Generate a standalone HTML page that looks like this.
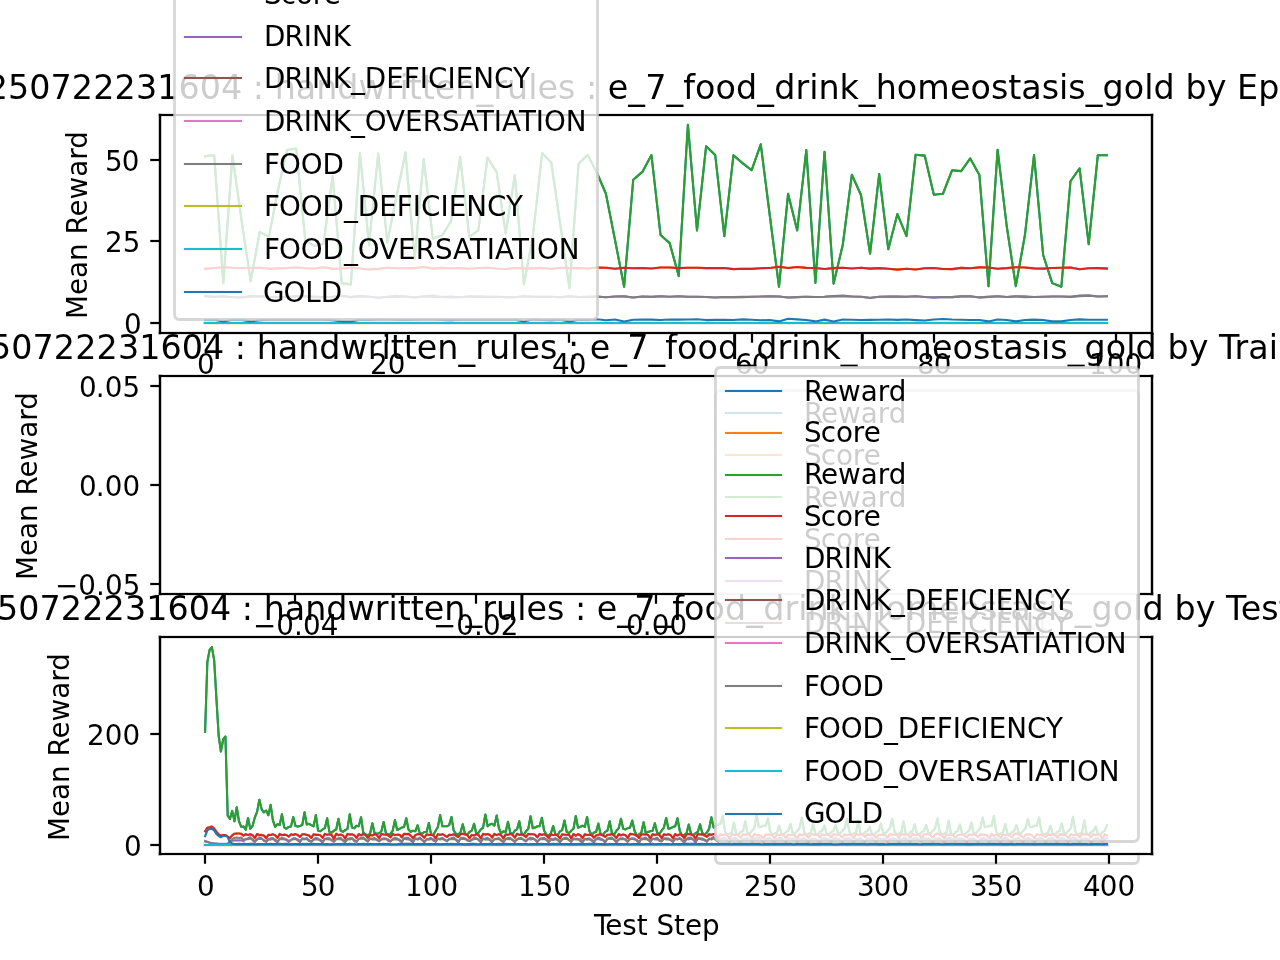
<!DOCTYPE html>
<html lang="en">
<head>
<meta charset="utf-8">
<title>Mean Reward plots</title>
<style>
html,body{margin:0;padding:0;background:#fff;}
body{width:1280px;height:960px;overflow:hidden;}
svg{display:block;font-family:"DejaVu Sans","Liberation Sans",sans-serif;}
svg text{fill:#000;white-space:pre;}
svg path{stroke-linejoin:round;}
</style>
</head>
<body>
<svg width="1280" height="960" viewBox="0 0 1280 960">
<g id="axes1">
<clipPath id="c0"><rect x="160" y="115.2" width="992" height="217.41"/></clipPath>
<rect x="160" y="115.2" width="992" height="217.41" fill="#fff"/>
<path d="M205.09 156.25L214.2 155L223.31 283.1L232.42 155.25L241.53 220L250.64 281.25L259.75 231.9L268.86 236.9L277.97 190L287.07 150L296.18 148.5L305.29 240.5L314.4 246L323.51 243.75L332.62 176.25L341.73 283.1L350.84 284.4L359.95 153.1L369.06 245L378.17 153.5L387.28 242.5L396.39 197L405.49 152.25L414.6 259L423.71 158.75L432.82 238.6L441.93 235.6L451.04 221.25L460.15 156.9L469.26 236.8L478.37 230.4L487.48 157.5L496.59 171.9L505.7 233.5L514.81 175L523.92 284.4L533.02 235L542.13 153.1L551.24 162.5L560.35 225L569.46 288.1L578.57 163.75L587.68 155L596.79 172.5L605.9 193.75L615.01 240L624.12 286.7L633.23 179.75L642.34 171.9L651.45 155.05L660.55 235L669.66 243.1L678.77 276.1L687.88 124.7L696.99 230.45L706.1 146.3L715.21 155L724.32 236.1L733.43 155.3L742.54 163.1L751.65 170.2L760.76 144.3L769.87 216L778.98 286.7L788.08 193.8L797.19 230.45L806.3 150.05L815.41 282.95L824.52 151.8L833.63 283.6L842.74 245L851.85 174.7L860.96 195L870.07 253.6L879.18 174.05L888.29 249.2L897.4 214.05L906.51 236.1L915.61 154.7L924.72 155.6L933.83 194.8L942.94 193.75L952.05 170.3L961.16 171.1L970.27 158.4L979.38 175L988.49 286.1L997.6 149.7L1006.71 226L1015.82 286.1L1024.93 235L1034.03 155.05L1043.14 255L1052.25 283.1L1061.36 286.7L1070.47 181.25L1079.58 168.4L1088.69 244.2L1097.8 155.3L1106.91 155.25" fill="none" stroke="#1f77b4" stroke-width="2.08" stroke-linecap="square" clip-path="url(#c0)"/>
<path d="M205.09 268.88L214.2 268.05L223.31 267.21L232.42 267.8L241.53 268.03L250.64 268.01L259.75 267.75L268.86 268.84L277.97 268.36L287.07 268.08L296.18 267.47L305.29 268.33L314.4 268.58L323.51 267.23L332.62 268.86L341.73 268.51L350.84 267.79L359.95 268.47L369.06 269.53L378.17 268.88L387.28 267.71L396.39 268.19L405.49 268.11L414.6 268.12L423.71 266.9L432.82 268.62L441.93 267.85L451.04 268.29L460.15 268.13L469.26 268.68L478.37 268.04L487.48 267.76L496.59 268.49L505.7 268.97L514.81 268.02L523.92 268.35L533.02 268.34L542.13 267.91L551.24 269.04L560.35 267.75L569.46 268.16L578.57 267.93L587.68 268.45L596.79 267.52L605.9 267.74L615.01 268.79L624.12 267.7L633.23 268.22L642.34 267.96L651.45 268.45L660.55 267.43L669.66 267.58L678.77 268.11L687.88 267.74L696.99 267.81L706.1 268.16L715.21 268.12L724.32 268.08L733.43 269.12L742.54 268.76L751.65 268.88L760.76 268.18L769.87 267.92L778.98 266.8L788.08 268.01L797.19 267.05L806.3 267.88L815.41 268.02L824.52 269.09L833.63 268.13L842.74 267.73L851.85 268.47L860.96 267.77L870.07 268.65L879.18 268.14L888.29 268.67L897.4 269.62L906.51 268.71L915.61 269.48L924.72 268.3L933.83 268.02L942.94 268.93L952.05 269.15L961.16 267.89L970.27 268.24L979.38 267.41L988.49 267.49L997.6 268.69L1006.71 268.15L1015.82 267.29L1024.93 267.43L1034.03 268.4L1043.14 268.64L1052.25 267.93L1061.36 267.74L1070.47 267.5L1079.58 269.17L1088.69 268.17L1097.8 268.12L1106.91 268.6" fill="none" stroke="#ff7f0e" stroke-width="2.08" stroke-linecap="square" clip-path="url(#c0)"/>
<path d="M205.09 156.25L214.2 155L223.31 283.1L232.42 155.25L241.53 220L250.64 281.25L259.75 231.9L268.86 236.9L277.97 190L287.07 150L296.18 148.5L305.29 240.5L314.4 246L323.51 243.75L332.62 176.25L341.73 283.1L350.84 284.4L359.95 153.1L369.06 245L378.17 153.5L387.28 242.5L396.39 197L405.49 152.25L414.6 259L423.71 158.75L432.82 238.6L441.93 235.6L451.04 221.25L460.15 156.9L469.26 236.8L478.37 230.4L487.48 157.5L496.59 171.9L505.7 233.5L514.81 175L523.92 284.4L533.02 235L542.13 153.1L551.24 162.5L560.35 225L569.46 288.1L578.57 163.75L587.68 155L596.79 172.5L605.9 193.75L615.01 240L624.12 286.7L633.23 179.75L642.34 171.9L651.45 155.05L660.55 235L669.66 243.1L678.77 276.1L687.88 124.7L696.99 230.45L706.1 146.3L715.21 155L724.32 236.1L733.43 155.3L742.54 163.1L751.65 170.2L760.76 144.3L769.87 216L778.98 286.7L788.08 193.8L797.19 230.45L806.3 150.05L815.41 282.95L824.52 151.8L833.63 283.6L842.74 245L851.85 174.7L860.96 195L870.07 253.6L879.18 174.05L888.29 249.2L897.4 214.05L906.51 236.1L915.61 154.7L924.72 155.6L933.83 194.8L942.94 193.75L952.05 170.3L961.16 171.1L970.27 158.4L979.38 175L988.49 286.1L997.6 149.7L1006.71 226L1015.82 286.1L1024.93 235L1034.03 155.05L1043.14 255L1052.25 283.1L1061.36 286.7L1070.47 181.25L1079.58 168.4L1088.69 244.2L1097.8 155.3L1106.91 155.25" fill="none" stroke="#2ca02c" stroke-width="2.08" stroke-linecap="square" clip-path="url(#c0)"/>
<path d="M205.09 268.88L214.2 268.05L223.31 267.21L232.42 267.8L241.53 268.03L250.64 268.01L259.75 267.75L268.86 268.84L277.97 268.36L287.07 268.08L296.18 267.47L305.29 268.33L314.4 268.58L323.51 267.23L332.62 268.86L341.73 268.51L350.84 267.79L359.95 268.47L369.06 269.53L378.17 268.88L387.28 267.71L396.39 268.19L405.49 268.11L414.6 268.12L423.71 266.9L432.82 268.62L441.93 267.85L451.04 268.29L460.15 268.13L469.26 268.68L478.37 268.04L487.48 267.76L496.59 268.49L505.7 268.97L514.81 268.02L523.92 268.35L533.02 268.34L542.13 267.91L551.24 269.04L560.35 267.75L569.46 268.16L578.57 267.93L587.68 268.45L596.79 267.52L605.9 267.74L615.01 268.79L624.12 267.7L633.23 268.22L642.34 267.96L651.45 268.45L660.55 267.43L669.66 267.58L678.77 268.11L687.88 267.74L696.99 267.81L706.1 268.16L715.21 268.12L724.32 268.08L733.43 269.12L742.54 268.76L751.65 268.88L760.76 268.18L769.87 267.92L778.98 266.8L788.08 268.01L797.19 267.05L806.3 267.88L815.41 268.02L824.52 269.09L833.63 268.13L842.74 267.73L851.85 268.47L860.96 267.77L870.07 268.65L879.18 268.14L888.29 268.67L897.4 269.62L906.51 268.71L915.61 269.48L924.72 268.3L933.83 268.02L942.94 268.93L952.05 269.15L961.16 267.89L970.27 268.24L979.38 267.41L988.49 267.49L997.6 268.69L1006.71 268.15L1015.82 267.29L1024.93 267.43L1034.03 268.4L1043.14 268.64L1052.25 267.93L1061.36 267.74L1070.47 267.5L1079.58 269.17L1088.69 268.17L1097.8 268.12L1106.91 268.6" fill="none" stroke="#d62728" stroke-width="2.08" stroke-linecap="square" clip-path="url(#c0)"/>
<path d="M205.09 296.03L214.2 296.87L223.31 296.17L232.42 297.29L241.53 297.44L250.64 295.83L259.75 296.17L268.86 296.76L277.97 296.98L287.07 296.96L296.18 296.39L305.29 296.23L314.4 296.51L323.51 297.04L332.62 296.89L341.73 295.71L350.84 297.11L359.95 296.35L369.06 296.75L378.17 297.74L387.28 296.84L396.39 295.8L405.49 296.43L414.6 297.44L423.71 296.38L432.82 295.59L441.93 296.95L451.04 297.5L460.15 297.25L469.26 296.42L478.37 296.63L487.48 296.89L496.59 296.74L505.7 297.09L514.81 297.27L523.92 296.28L533.02 296.68L542.13 296.69L551.24 296.75L560.35 297.22L569.46 296.31L578.57 297.06L587.68 296.86L596.79 296.56L605.9 297.25L615.01 296.48L624.12 296.4L633.23 297.49L642.34 296.46L651.45 296.88L660.55 296.27L669.66 296.7L678.77 296.3L687.88 296.76L696.99 296.68L706.1 296.95L715.21 297.53L724.32 297.01L733.43 297.16L742.54 297.23L751.65 296.71L760.76 296.57L769.87 296.18L778.98 296.43L788.08 297.55L797.19 297.09L806.3 296.69L815.41 297.06L824.52 296.73L833.63 296.15L842.74 295.65L851.85 296.52L860.96 296.8L870.07 298.02L879.18 296.82L888.29 296.49L897.4 296.59L906.51 296.81L915.61 296.22L924.72 296.95L933.83 297.59L942.94 297.03L952.05 297.14L961.16 296.38L970.27 296.22L979.38 297.41L988.49 296.84L997.6 296.28L1006.71 296.98L1015.82 296.41L1024.93 296.17L1034.03 296.98L1043.14 296.7L1052.25 296.48L1061.36 296.46L1070.47 296.88L1079.58 295.65L1088.69 295.21L1097.8 296.58L1106.91 296.25" fill="none" stroke="#9467bd" stroke-width="2.08" stroke-linecap="square" clip-path="url(#c0)"/>
<path d="M205 323L1107 323" fill="none" stroke="#8c564b" stroke-width="4" stroke-opacity="0.042" stroke-linecap="square" clip-path="url(#c0)"/>
<path d="M205 323L1107 323" fill="none" stroke="#8c564b" stroke-width="2.08" stroke-linecap="square" clip-path="url(#c0)"/>
<path d="M205 323L1107 323" fill="none" stroke="#e377c2" stroke-width="4" stroke-opacity="0.042" stroke-linecap="square" clip-path="url(#c0)"/>
<path d="M205 323L1107 323" fill="none" stroke="#e377c2" stroke-width="2.08" stroke-linecap="square" clip-path="url(#c0)"/>
<path d="M205.09 296.03L214.2 296.87L223.31 296.35L232.42 297.05L241.53 297.44L250.64 296.59L259.75 296.17L268.86 296.76L277.97 296.98L287.07 296.96L296.18 296.39L305.29 296.23L314.4 297.12L323.51 297.04L332.62 296.89L341.73 295.71L350.84 297.11L359.95 295.74L369.06 296.75L378.17 297.74L387.28 296.84L396.39 296.99L405.49 296.43L414.6 297.44L423.71 296.38L432.82 297L441.93 296.95L451.04 296.48L460.15 297.25L469.26 296.33L478.37 296.63L487.48 296.89L496.59 296.74L505.7 297.09L514.81 297.27L523.92 296.28L533.02 296.68L542.13 296.69L551.24 296.75L560.35 297.22L569.46 296.31L578.57 297.06L587.68 296.86L596.79 296.56L605.9 297.25L615.01 296.48L624.12 296.4L633.23 297.49L642.34 296.46L651.45 296.88L660.55 296.27L669.66 296.7L678.77 296.3L687.88 296.76L696.99 296.68L706.1 296.95L715.21 297.53L724.32 297.01L733.43 297.16L742.54 296.88L751.65 296.8L760.76 296.57L769.87 296.18L778.98 296.43L788.08 297.55L797.19 297.09L806.3 296.69L815.41 297.06L824.52 296.73L833.63 296.15L842.74 296.41L851.85 296.52L860.96 296.8L870.07 297.7L879.18 296.82L888.29 296.49L897.4 296.66L906.51 296.81L915.61 296.22L924.72 296.95L933.83 297.18L942.94 297.03L952.05 297.14L961.16 296.38L970.27 296.22L979.38 297.41L988.49 296.84L997.6 296.28L1006.71 296.98L1015.82 296.41L1024.93 297.12L1034.03 296.98L1043.14 296.7L1052.25 296.48L1061.36 296.46L1070.47 296.88L1079.58 296.16L1088.69 295.7L1097.8 296.58L1106.91 296.25" fill="none" stroke="#7f7f7f" stroke-width="2.08" stroke-linecap="square" clip-path="url(#c0)"/>
<path d="M205 323L1107 323" fill="none" stroke="#bcbd22" stroke-width="4" stroke-opacity="0.042" stroke-linecap="square" clip-path="url(#c0)"/>
<path d="M205 323L1107 323" fill="none" stroke="#bcbd22" stroke-width="2.08" stroke-linecap="square" clip-path="url(#c0)"/>
<path d="M205 323L1107 323" fill="none" stroke="#17becf" stroke-width="4" stroke-opacity="0.042" stroke-linecap="square" clip-path="url(#c0)"/>
<path d="M205 323L1107 323" fill="none" stroke="#17becf" stroke-width="2.08" stroke-linecap="square" clip-path="url(#c0)"/>
<path d="M205.09 319.96L214.2 319.72L223.31 321.4L232.42 319.73L241.53 319.86L250.64 321.4L259.75 320.2L268.86 319.75L277.97 319.62L287.07 319.79L296.18 319.57L305.29 319.75L314.4 319.7L323.51 319.78L332.62 320.28L341.73 321.4L350.84 321.4L359.95 319.64L369.06 319.9L378.17 319.35L387.28 319.49L396.39 319.69L405.49 319.86L414.6 319.69L423.71 319.55L432.82 319.44L441.93 319.85L451.04 320.13L460.15 319.8L469.26 319.76L478.37 319.83L487.48 319.42L496.59 319.61L505.7 319.62L514.81 319.79L523.92 321.4L533.02 319.34L542.13 320.04L551.24 320.21L560.35 319.62L569.46 321.4L578.57 319.78L587.68 319.94L596.79 319.26L605.9 320.18L615.01 319.56L624.12 321.4L633.23 319.72L642.34 319.58L651.45 319.66L660.55 319.97L669.66 319.44L678.77 319.59L687.88 319.56L696.99 319.19L706.1 320.09L715.21 319.87L724.32 319.69L733.43 320.05L742.54 319.41L751.65 319.68L760.76 320.22L769.87 319.99L778.98 321.4L788.08 318.7L797.19 319.39L806.3 320.02L815.41 321.4L824.52 319.63L833.63 321.4L842.74 319.43L851.85 319.76L860.96 319.94L870.07 319.84L879.18 319.82L888.29 319.52L897.4 319.85L906.51 319.57L915.61 320.09L924.72 320.47L933.83 319.48L942.94 319.05L952.05 319.57L961.16 319.81L970.27 320.02L979.38 320.02L988.49 321.4L997.6 319.46L1006.71 320.08L1015.82 321.4L1024.93 320.03L1034.03 319.63L1043.14 319.93L1052.25 321.4L1061.36 321.4L1070.47 319.95L1079.58 319.4L1088.69 319.79L1097.8 319.7L1106.91 319.79" fill="none" stroke="#1f77b4" stroke-width="2.08" stroke-linecap="square" clip-path="url(#c0)"/>
<path d="M160 333L160 115" fill="none" stroke="#000000" stroke-width="4" stroke-opacity="0.111" stroke-linecap="square"/>
<path d="M160 333L160 115" fill="none" stroke="#000000" stroke-width="2.22" stroke-linecap="square" stroke-linejoin="miter"/>
<path d="M1152 333L1152 115" fill="none" stroke="#000000" stroke-width="4" stroke-opacity="0.111" stroke-linecap="square"/>
<path d="M1152 333L1152 115" fill="none" stroke="#000000" stroke-width="2.22" stroke-linecap="square" stroke-linejoin="miter"/>
<path d="M160 333L1152 333" fill="none" stroke="#000000" stroke-width="4" stroke-opacity="0.111" stroke-linecap="square"/>
<path d="M160 333L1152 333" fill="none" stroke="#000000" stroke-width="2.22" stroke-linecap="square" stroke-linejoin="miter"/>
<path d="M160 115L1152 115" fill="none" stroke="#000000" stroke-width="4" stroke-opacity="0.111" stroke-linecap="square"/>
<path d="M160 115L1152 115" fill="none" stroke="#000000" stroke-width="2.22" stroke-linecap="square" stroke-linejoin="miter"/>
<path d="M205 333L205 342.72" fill="none" stroke="#000000" stroke-width="2.22"/>
<text x="197.06" y="374" font-size="27.78">0</text>
<path d="M387 333L387 342.72" fill="none" stroke="#000000" stroke-width="2.22"/>
<text x="370.06 387.69" y="374" font-size="27.78">20</text>
<path d="M569 333L569 342.72" fill="none" stroke="#000000" stroke-width="2.22"/>
<text x="552.06 568.68" y="374" font-size="27.78">40</text>
<path d="M752 333L752 342.72" fill="none" stroke="#000000" stroke-width="2.22"/>
<text x="735.06 751.68" y="374" font-size="27.78">60</text>
<path d="M934 333L934 342.72" fill="none" stroke="#000000" stroke-width="2.22"/>
<text x="917.06 933.68" y="374" font-size="27.78">80</text>
<path d="M1116 333L1116 342.72" fill="none" stroke="#000000" stroke-width="2.22"/>
<text x="1089.06 1106.68 1124.43" y="374" font-size="27.78">100</text>
<path d="M160 323L150.28 323" fill="none" stroke="#000000" stroke-width="2.22"/>
<text x="124.06" y="334" font-size="27.78">0</text>
<path d="M160 241L150.28 241" fill="none" stroke="#000000" stroke-width="2.22"/>
<text x="105.06 122.69" y="252" font-size="27.78">25</text>
<path d="M160 160L150.28 160" fill="none" stroke="#000000" stroke-width="2.22"/>
<text x="105.06 121.69" y="171" font-size="27.78">50</text>
<text x="87 111 128 145 162.62 171.5 189.5 206.5 229.25 246.25 257.25" y="318.94" font-size="27.78" transform="rotate(-90 87 318.94)">Mean Reward</text>
<text x="-55.94 -34.56 -13.31 8.06 29.31 50.56 71.81 93.19 114.56 135.94 157.19 178.44 199.69 220.94 242.19 252.81 264.06 274.69 295.81 316.19 337.31 358.56 385.81 399.56 408.81 421.81 434.81 455.31 476.44 493.31 507.06 528.18 537.43 557.93 575.31 585.93 597.18 607.81 628.31 645.18 666.43 683.31 695.06 715.56 736.06 757.31 774.18 795.43 809.18 818.43 839.56 858.81 875.68 896.81 917.31 949.93 970.43 990.93 1008.31 1021.31 1041.68 1059.06 1068.31 1085.68 1102.56 1123.81 1144.31 1153.56 1174.81 1185.43 1206.68 1226.43 1237.06 1258.18 1279.43 1288.68 1306.06 1326.56 1347.81" y="99" font-size="33.33">20250722231604 : handwritten_rules : e_7_food_drink_homeostasis_gold by Episode</text>
<g id="legend1">
<path d="M179.5 319.5L592.5 319.5Q597.5 319.5 597.5 313.5L597.5 -148.5Q597.5 -153.5 592.5 -153.5L179.5 -153.5Q174.5 -153.5 174.5 -148.5L174.5 313.5Q174.5 319.5 179.5 319.5Z" fill="#ffffff" fill-opacity="0.8" stroke="#cccccc" stroke-opacity="0.8" stroke-width="2.78" stroke-linejoin="miter"/>
<text x="264.06 280.69 295.94 312.81 323.69" y="4" font-size="27.78">Score</text>
<path d="M185 37L241 37" fill="none" stroke="#9467bd" stroke-width="4" stroke-opacity="0.042" stroke-linecap="square"/>
<path d="M185 37L241 37" fill="none" stroke="#9467bd" stroke-width="2.08" stroke-linecap="square"/>
<text x="264.06 284.44 303.69 311.94 332.69" y="46" font-size="27.78">DRINK</text>
<path d="M185 78L241 78" fill="none" stroke="#8c564b" stroke-width="4" stroke-opacity="0.042" stroke-linecap="square"/>
<path d="M185 78L241 78" fill="none" stroke="#8c564b" stroke-width="2.08" stroke-linecap="square"/>
<text x="264.06 284.44 303.69 311.94 332.69 350.94 364.81 386.19 403.81 419.81 428.06 447.44 455.69 473.31 494.06 512.93" y="88" font-size="27.78">DRINK_DEFICIENCY</text>
<path d="M185 121L241 121" fill="none" stroke="#e377c2" stroke-width="4" stroke-opacity="0.042" stroke-linecap="square"/>
<path d="M185 121L241 121" fill="none" stroke="#e377c2" stroke-width="2.08" stroke-linecap="square"/>
<text x="264.06 284.44 303.69 311.94 332.69 350.94 364.81 386.06 405.06 422.69 441.94 460.06 476.94 493.81 502.06 518.93 535.81 544.06 565.81" y="131" font-size="27.78">DRINK_OVERSATIATION</text>
<path d="M185 164L241 164" fill="none" stroke="#7f7f7f" stroke-width="4" stroke-opacity="0.042" stroke-linecap="square"/>
<path d="M185 164L241 164" fill="none" stroke="#7f7f7f" stroke-width="2.08" stroke-linecap="square"/>
<text x="264.06 279.06 300.81 322.56" y="174" font-size="27.78">FOOD</text>
<path d="M185 206L241 206" fill="none" stroke="#bcbd22" stroke-width="4" stroke-opacity="0.042" stroke-linecap="square"/>
<path d="M185 206L241 206" fill="none" stroke="#bcbd22" stroke-width="2.08" stroke-linecap="square"/>
<text x="264.06 279.06 300.81 322.56 343.94 357.81 379.19 396.81 412.81 421.06 440.44 448.69 466.31 487.06 505.94" y="216" font-size="27.78">FOOD_DEFICIENCY</text>
<path d="M185 249L241 249" fill="none" stroke="#17becf" stroke-width="4" stroke-opacity="0.042" stroke-linecap="square"/>
<path d="M185 249L241 249" fill="none" stroke="#17becf" stroke-width="2.08" stroke-linecap="square"/>
<text x="264.06 279.06 300.81 322.56 343.94 357.81 379.06 398.06 415.69 434.94 453.06 469.94 486.81 495.06 511.94 528.81 537.06 558.81" y="259" font-size="27.78">FOOD_OVERSATIATION</text>
<path d="M185 292L241 292" fill="none" stroke="#1f77b4" stroke-width="4" stroke-opacity="0.042" stroke-linecap="square"/>
<path d="M185 292L241 292" fill="none" stroke="#1f77b4" stroke-width="2.08" stroke-linecap="square"/>
<text x="263.06 283.44 305.19 320.69" y="302" font-size="27.78">GOLD</text>
</g>
</g>
<g id="axes2">
<clipPath id="c1"><rect x="160" y="376.09" width="992" height="217.41"/></clipPath>
<rect x="160" y="376.09" width="992" height="217.41" fill="#fff"/>
<path d="M160 594L160 376" fill="none" stroke="#000000" stroke-width="4" stroke-opacity="0.111" stroke-linecap="square"/>
<path d="M160 594L160 376" fill="none" stroke="#000000" stroke-width="2.22" stroke-linecap="square" stroke-linejoin="miter"/>
<path d="M1152 594L1152 376" fill="none" stroke="#000000" stroke-width="4" stroke-opacity="0.111" stroke-linecap="square"/>
<path d="M1152 594L1152 376" fill="none" stroke="#000000" stroke-width="2.22" stroke-linecap="square" stroke-linejoin="miter"/>
<path d="M160 594L1152 594" fill="none" stroke="#000000" stroke-width="4" stroke-opacity="0.111" stroke-linecap="square"/>
<path d="M160 594L1152 594" fill="none" stroke="#000000" stroke-width="2.22" stroke-linecap="square" stroke-linejoin="miter"/>
<path d="M160 376L1152 376" fill="none" stroke="#000000" stroke-width="4" stroke-opacity="0.111" stroke-linecap="square"/>
<path d="M160 376L1152 376" fill="none" stroke="#000000" stroke-width="2.22" stroke-linecap="square" stroke-linejoin="miter"/>
<path d="M295 594L295 603.72" fill="none" stroke="#000000" stroke-width="2.22"/>
<text x="253.06 276.31 294.06 302.94 320.69" y="635" font-size="27.78">−0.04</text>
<path d="M476 594L476 603.72" fill="none" stroke="#000000" stroke-width="2.22"/>
<text x="433.06 456.31 474.06 482.94 500.69" y="635" font-size="27.78">−0.02</text>
<path d="M656 594L656 603.72" fill="none" stroke="#000000" stroke-width="2.22"/>
<text x="626.06 642.81 651.68 669.43" y="635" font-size="27.78">0.00</text>
<path d="M836 594L836 603.72" fill="none" stroke="#000000" stroke-width="2.22"/>
<text x="806.06 822.81 831.68 849.43" y="635" font-size="27.78">0.02</text>
<path d="M1017 594L1017 603.72" fill="none" stroke="#000000" stroke-width="2.22"/>
<text x="987.06 1003.81 1012.68 1030.43" y="635" font-size="27.78">0.04</text>
<path d="M160 584L150.28 584" fill="none" stroke="#000000" stroke-width="2.22"/>
<text x="55.06 78.31 96.06 104.94 122.69" y="595" font-size="27.78">−0.05</text>
<path d="M160 485L150.28 485" fill="none" stroke="#000000" stroke-width="2.22"/>
<text x="79.06 95.81 104.69 122.44" y="496" font-size="27.78">0.00</text>
<path d="M160 386L150.28 386" fill="none" stroke="#000000" stroke-width="2.22"/>
<text x="79.06 95.81 104.69 122.44" y="397" font-size="27.78">0.05</text>
<text x="37 61 78 95 112.62 121.5 139.5 156.5 179.25 196.25 207.25" y="579.94" font-size="27.78" transform="rotate(-90 37 579.94)">Mean Reward</text>
<text x="-73.94 -52.56 -31.31 -9.94 11.31 32.56 53.81 75.19 96.56 117.94 139.19 160.44 181.69 202.94 224.19 234.81 246.06 256.69 277.81 298.19 319.31 340.56 367.81 381.56 390.81 403.81 416.81 437.31 458.44 475.31 489.06 510.19 519.43 539.93 557.31 567.93 579.18 589.81 610.31 627.18 648.43 665.31 677.06 697.56 718.06 739.31 756.18 777.43 791.18 800.43 821.56 840.81 857.68 878.81 899.31 931.93 952.43 972.93 990.31 1003.31 1023.68 1041.06 1050.31 1067.68 1084.56 1105.81 1126.31 1135.56 1156.81 1167.43 1188.68 1208.43 1219.06 1234.56 1248.31 1268.68 1277.93 1299.06 1309.68 1330.93 1343.93 1364.43" y="359" font-size="33.33">20250722231604 : handwritten_rules : e_7_food_drink_homeostasis_gold by Train Step</text>
<g id="legend2">
<path d="M720.5 863.5L1133.5 863.5Q1138.5 863.5 1138.5 858.5L1138.5 396.5Q1138.5 390.5 1133.5 390.5L720.5 390.5Q715.5 390.5 715.5 396.5L715.5 858.5Q715.5 863.5 720.5 863.5Z" fill="#ffffff" fill-opacity="0.8" stroke="#cccccc" stroke-opacity="0.8" stroke-width="2.78" stroke-linejoin="miter"/>
<path d="M726 413L781 413" fill="none" stroke="#1f77b4" stroke-width="4" stroke-opacity="0.042" stroke-linecap="square"/>
<path d="M726 413L781 413" fill="none" stroke="#1f77b4" stroke-width="2.08" stroke-linecap="square"/>
<text x="804.06 821.06 838.06 860.81 877.81 888.81" y="423" font-size="27.78">Reward</text>
<path d="M726 455L781 455" fill="none" stroke="#ff7f0e" stroke-width="4" stroke-opacity="0.042" stroke-linecap="square"/>
<path d="M726 455L781 455" fill="none" stroke="#ff7f0e" stroke-width="2.08" stroke-linecap="square"/>
<text x="804.06 820.68 835.93 852.81 863.68" y="465" font-size="27.78">Score</text>
<path d="M726 497L781 497" fill="none" stroke="#2ca02c" stroke-width="4" stroke-opacity="0.042" stroke-linecap="square"/>
<path d="M726 497L781 497" fill="none" stroke="#2ca02c" stroke-width="2.08" stroke-linecap="square"/>
<text x="804.06 821.06 838.06 860.81 877.81 888.81" y="507" font-size="27.78">Reward</text>
<path d="M726 539L781 539" fill="none" stroke="#d62728" stroke-width="4" stroke-opacity="0.042" stroke-linecap="square"/>
<path d="M726 539L781 539" fill="none" stroke="#d62728" stroke-width="2.08" stroke-linecap="square"/>
<text x="804.06 820.68 835.93 852.81 863.68" y="549" font-size="27.78">Score</text>
<path d="M726 581L781 581" fill="none" stroke="#9467bd" stroke-width="4" stroke-opacity="0.042" stroke-linecap="square"/>
<path d="M726 581L781 581" fill="none" stroke="#9467bd" stroke-width="2.08" stroke-linecap="square"/>
<text x="804.06 824.43 843.68 851.93 872.68" y="591" font-size="27.78">DRINK</text>
<path d="M726 623L781 623" fill="none" stroke="#8c564b" stroke-width="4" stroke-opacity="0.042" stroke-linecap="square"/>
<path d="M726 623L781 623" fill="none" stroke="#8c564b" stroke-width="2.08" stroke-linecap="square"/>
<text x="804.06 824.43 843.68 851.93 872.68 890.93 904.81 926.18 943.81 959.81 968.06 987.43 995.68 1013.31 1034.06 1052.93" y="633" font-size="27.78">DRINK_DEFICIENCY</text>
</g>
</g>
<g id="axes3">
<clipPath id="c2"><rect x="160" y="636.99" width="992" height="217.41"/></clipPath>
<rect x="160" y="636.99" width="992" height="217.41" fill="#fff"/>
<path d="M205.09 731.7L207.35 662L209.61 650L211.87 647.1L214.13 659.7L216.39 698L218.65 735.5L220.91 751.5L223.17 739.5L225.43 736.5L227.69 815.6L229.95 818.9L232.21 810.9L234.47 821.25L236.73 807.2L238.99 821.25L241.25 826.9L243.51 826.4L245.77 829.7L248.03 818L250.29 828.75L252.56 825.9L254.82 817.5L257.08 811.9L259.34 799.7L261.6 809.1L263.86 812.3L266.12 810.5L268.38 815.2L270.64 804.8L272.9 820.3L275.16 826.9L277.42 824.1L279.68 825L281.94 814.2L284.2 827.3L286.46 828.75L288.72 826.9L290.98 826.4L293.24 817L295.5 825.9L297.76 826.4L300.02 825.9L302.28 825L304.54 812.3L306.8 824.45L309.06 823.8L311.32 825.1L313.58 826.3L315.84 815.1L318.1 830.7L320.36 831.3L322.62 829.45L324.88 828.2L327.14 818.2L329.4 831.95L331.66 832.6L333.92 830.7L336.18 829.45L338.44 818.8L340.7 830.7L342.96 831.95L345.22 830.1L347.48 828.8L349.74 814.2L352 827.6L354.26 828.2L356.52 825.7L358.78 826.3L361.04 817.2L363.3 832.6L365.56 834.45L367.83 835.1L370.09 833.8L372.35 823.2L374.61 833.2L376.87 833.8L379.13 833.2L381.39 831.3L383.65 821.95L385.91 833.2L388.17 834.45L390.43 833.8L392.69 830.7L394.95 820.1L397.21 830.1L399.47 828.8L401.73 827.6L403.99 826.95L406.25 818.2L408.51 829.45L410.77 831.95L413.03 830.7L415.29 831.3L417.55 825.3L419.81 833.2L422.07 833.8L424.33 831.95L426.59 831.95L428.85 822.95L431.11 834.45L433.37 835.1L435.63 830.7L437.89 826.95L440.15 815.1L442.41 826.3L444.67 826.3L446.93 826.3L449.19 825.1L451.45 816.95L453.71 830.7L455.97 833.8L458.23 834.45L460.49 832.6L462.75 824.2L465.01 833.8L467.27 834.45L469.53 831.95L471.79 830.7L474.05 823.8L476.31 833.8L478.57 832.6L480.83 829.45L483.1 827.6L485.36 814.45L487.62 826.3L489.88 824.45L492.14 823.8L494.4 825.7L496.66 815.45L498.92 828.2L501.18 833.2L503.44 831.3L505.7 831.95L507.96 821.7L510.22 832.6L512.48 834.45L514.74 830.7L517 829.45L519.26 821.3L521.52 833.2L523.78 835.1L526.04 831.3L528.3 828.8L530.56 816.3L532.82 828.2L535.08 827.6L537.34 826.3L539.6 826.3L541.86 817.8L544.12 830.7L546.38 834.45L548.64 835.7L550.9 833.2L553.16 825.95L555.42 834.45L557.68 835.1L559.94 831.3L562.2 830.1L564.46 820.45L566.72 831.95L568.98 833.2L571.24 830.7L573.5 828.8L575.76 815.95L578.02 827.6L580.28 826.95L582.54 825.7L584.8 826.95L587.06 816.95L589.32 830.7L591.58 835.1L593.84 832.6L596.1 831.95L598.37 823.6L600.63 834.45L602.89 835.1L605.15 831.95L607.41 830.7L609.67 821.3L611.93 833.2L614.19 834.45L616.45 830.7L618.71 828.2L620.97 818.8L623.23 828.8L625.49 829.45L627.75 828.2L630.01 827.6L632.27 820.45L634.53 830.7L636.79 835.7L639.05 834.45L641.31 832.6L643.57 822.3L645.83 833.2L648.09 831.95L650.35 831.3L652.61 830.7L654.87 823.2L657.13 832.6L659.39 833.8L661.65 830.7L663.91 827.6L666.17 817.95L668.43 828.8L670.69 828.2L672.95 826.95L675.21 826.3L677.47 818.2L679.73 830.7L681.99 835.7L684.25 835.1L686.51 833.2L688.77 824.45L691.03 833.8L693.29 835.1L695.55 833.2L697.81 831.95L700.07 824.2L702.33 833.2L704.59 834.45L706.85 832.6L709.11 828.8L711.37 817.2L713.63 827.6L715.9 825.7L718.16 824.45L720.42 823.8L722.68 815.7L724.94 831.2L727.2 834.7L729.46 833.7L731.72 832.5L733.98 822.6L736.24 833.7L738.5 834.7L740.76 832.2L743.02 830.9L745.28 821.3L747.54 832.7L749.8 833.7L752.06 830.7L754.32 828.2L756.58 814.45L758.84 827.2L761.1 826.7L763.36 825.7L765.62 825.9L767.88 818.45L770.14 831.2L772.4 834.7L774.66 833.7L776.92 832.5L779.18 825.7L781.44 833.7L783.7 834.7L785.96 832.2L788.22 830.9L790.48 823.8L792.74 832.7L795 833.7L797.26 830.7L799.52 828.2L801.78 817.6L804.04 831.2L806.3 834.7L808.56 833.7L810.82 832.5L813.08 823.8L815.34 833.7L817.6 834.7L819.86 832.2L822.12 830.9L824.38 825.7L826.64 833.7L828.9 834.7L831.17 832.2L833.43 830.9L835.69 825.1L837.95 832.7L840.21 833.7L842.47 830.7L844.73 828.2L846.99 818.8L849.25 831.2L851.51 834.7L853.77 833.7L856.03 832.5L858.29 820.4L860.55 833.7L862.81 834.7L865.07 832.2L867.33 830.9L869.59 826.95L871.85 833.7L874.11 834.7L876.37 832.2L878.63 830.9L880.89 823.45L883.15 832.7L885.41 833.7L887.67 830.7L889.93 828.2L892.19 818.8L894.45 831.2L896.71 834.7L898.97 833.7L901.23 832.5L903.49 821.3L905.75 833.7L908.01 834.7L910.27 832.2L912.53 830.9L914.79 824.2L917.05 833.7L919.31 834.7L921.57 832.2L923.83 830.9L926.09 825.1L928.35 832.7L930.61 833.7L932.87 830.7L935.13 828.2L937.39 818.45L939.65 831.2L941.91 834.7L944.17 833.7L946.44 832.5L948.7 820.7L950.96 833.7L953.22 834.7L955.48 832.2L957.74 830.9L960 824.45L962.26 833.7L964.52 834.7L966.78 832.2L969.04 830.9L971.3 822.6L973.56 832.7L975.82 833.7L978.08 830.7L980.34 828.2L982.6 817.6L984.86 827.2L987.12 826.7L989.38 825.7L991.64 825.9L993.9 815.7L996.16 831.2L998.42 834.7L1000.68 833.7L1002.94 832.5L1005.2 823.8L1007.46 833.7L1009.72 834.7L1011.98 832.2L1014.24 830.9L1016.5 825.1L1018.76 832.7L1021.02 833.7L1023.28 830.7L1025.54 828.2L1027.8 819.2L1030.06 827.2L1032.32 826.7L1034.58 825.7L1036.84 825.9L1039.1 817.6L1041.36 831.2L1043.62 834.7L1045.88 833.7L1048.14 832.5L1050.4 825.7L1052.66 833.7L1054.92 834.7L1057.18 832.2L1059.44 830.9L1061.71 823.45L1063.97 832.7L1066.23 833.7L1068.49 830.7L1070.75 828.2L1073.01 816.7L1075.27 831.2L1077.53 834.7L1079.79 833.7L1082.05 832.5L1084.31 820.45L1086.57 833.7L1088.83 834.7L1091.09 832.2L1093.35 830.9L1095.61 826.7L1097.87 833.7L1100.13 834.7L1102.39 832.2L1104.65 830.9L1106.91 825.1" fill="none" stroke="#1f77b4" stroke-width="2.08" stroke-linecap="square" clip-path="url(#c2)"/>
<path d="M205.09 831.25L207.35 827.7L209.61 827.3L211.87 826.6L214.13 828.6L216.39 831.6L218.65 834.4L220.91 835.6L223.17 835L225.43 835L227.69 836.5L229.95 838L232.21 835.4L234.47 833.7L236.73 833.5L238.99 833.5L241.25 833.7L243.51 835.75L245.77 834.09L248.03 835.1L250.29 834.28L252.56 835.28L254.82 837.98L257.08 834.03L259.34 835.22L261.6 834.9L263.86 835.41L266.12 838.44L268.38 834.67L270.64 834.98L272.9 834.35L275.16 835.25L277.42 837.9L279.68 833.94L281.94 835.29L284.2 834.65L286.46 834.98L288.72 836.68L290.98 834.36L293.24 834.91L295.5 834.07L297.76 835.18L300.02 836.95L302.28 834.28L304.54 834.25L306.8 834.93L309.06 835.58L311.32 837.92L313.58 834.29L315.84 834.87L318.1 834.78L320.36 835.35L322.62 837.91L324.88 833.86L327.14 834.87L329.4 834.24L331.66 835.07L333.92 838.99L336.18 833.73L338.44 835.17L340.7 834.42L342.96 835.43L345.22 838.54L347.48 833.88L349.74 834.65L352 834.32L354.26 835.33L356.52 837.86L358.78 834.07L361.04 835.35L363.3 833.98L365.56 835.12L367.83 837.89L370.09 834.81L372.35 835.53L374.61 834.04L376.87 835.04L379.13 838.11L381.39 833.95L383.65 834.57L385.91 834.68L388.17 835.36L390.43 837.3L392.69 834.06L394.95 835.1L397.21 834.66L399.47 834.69L401.73 837.41L403.99 833.86L406.25 834.1L408.51 833.85L410.77 835.58L413.03 838.28L415.29 835.11L417.55 834.32L419.81 833.96L422.07 835.47L424.33 837.73L426.59 834.21L428.85 834.97L431.11 834.72L433.37 835.46L435.63 838.44L437.89 834.11L440.15 835L442.41 834.12L444.67 835.3L446.93 836.97L449.19 834.66L451.45 835.09L453.71 834.18L455.97 835.62L458.23 837.19L460.49 834.28L462.75 833.67L465.01 834.57L467.27 835.09L469.53 838.18L471.79 834.89L474.05 835.53L476.31 834.05L478.57 834.92L480.83 838.49L483.1 833.91L485.36 834.63L487.62 834.05L489.88 834.95L492.14 837.62L494.4 833.85L496.66 835.18L498.92 834.06L501.18 835.32L503.44 838.45L505.7 834.35L507.96 834.9L510.22 833.98L512.48 834.6L514.74 837.77L517 833.77L519.26 834.88L521.52 834.56L523.78 835.22L526.04 837.09L528.3 833.94L530.56 834.27L532.82 834.22L535.08 834.8L537.34 837.32L539.6 833.95L541.86 834.99L544.12 834.14L546.38 835.57L548.64 838.19L550.9 834.28L553.16 835.12L555.42 834.41L557.68 835.69L559.94 838.36L562.2 834.33L564.46 834.78L566.72 834.75L568.98 834.79L571.24 838.52L573.5 834.01L575.76 835.76L578.02 834.14L580.28 835.25L582.54 838.23L584.8 834.29L587.06 834.99L589.32 834.79L591.58 834.91L593.84 837.73L596.1 835.47L598.37 834.79L600.63 834.29L602.89 835.45L605.15 836.98L607.41 834.78L609.67 834.67L611.93 833.87L614.19 835.65L616.45 838.12L618.71 833.99L620.97 835.36L623.23 834.42L625.49 835.16L627.75 838.05L630.01 833.9L632.27 834.24L634.53 834.57L636.79 835.7L639.05 838.01L641.31 834.41L643.57 834.53L645.83 834.26L648.09 835.02L650.35 838.45L652.61 834.13L654.87 835.02L657.13 834.3L659.39 834.88L661.65 838.17L663.91 834.19L666.17 834.99L668.43 834.33L670.69 835.03L672.95 838.47L675.21 834.01L677.47 835.54L679.73 834.32L681.99 834.89L684.25 838.29L686.51 834.36L688.77 834.06L691.03 834.41L693.29 835.43L695.55 838.73L697.81 834.04L700.07 834.42L702.33 834.27L704.59 835.49L706.85 836.9L709.11 834.28L711.37 834.87L713.63 833.94L715.9 834.67L718.16 838.09L720.42 834.17L722.68 835.01L724.94 834.5L727.2 835.24L729.46 838.67L731.72 834.29L733.98 834.85L736.24 834.56L738.5 835.48L740.76 837.79L743.02 834.35L745.28 834.87L747.54 834.12L749.8 835.34L752.06 838.06L754.32 834.18L756.58 835.24L758.84 834.89L761.1 835.96L763.36 838.17L765.62 834.63L767.88 834.71L770.14 834.55L772.4 835.57L774.66 838.33L776.92 834.56L779.18 835.03L781.44 834.24L783.7 835.39L785.96 837.79L788.22 834.68L790.48 835.08L792.74 834.54L795 835.75L797.26 838.36L799.52 834.24L801.78 835.21L804.04 834.32L806.3 835.01L808.56 837.67L810.82 834.3L813.08 834.31L815.34 834.89L817.6 834.93L819.86 837.53L822.12 834.11L824.38 835.12L826.64 834.48L828.9 835.07L831.17 837.34L833.43 834.28L835.69 834.44L837.95 834.67L840.21 835.37L842.47 837.48L844.73 834.11L846.99 835.32L849.25 834.36L851.51 835.17L853.77 838.27L856.03 833.55L858.29 834.88L860.55 834.24L862.81 834.76L865.07 836.96L867.33 834.12L869.59 835.02L871.85 834.44L874.11 835.71L876.37 837.76L878.63 834.69L880.89 835.06L883.15 834.63L885.41 835.46L887.67 837.82L889.93 833.94L892.19 834.81L894.45 834.46L896.71 834.6L898.97 837.81L901.23 834.09L903.49 834.68L905.75 834.37L908.01 835.09L910.27 837.68L912.53 833.63L914.79 835.23L917.05 834.45L919.31 834.76L921.57 838.37L923.83 834.28L926.09 834.31L928.35 833.89L930.61 835.5L932.87 837.62L935.13 834.31L937.39 833.56L939.65 834.54L941.91 835.69L944.17 838.07L946.44 834.62L948.7 834.77L950.96 834.36L953.22 835.43L955.48 837.86L957.74 835.17L960 834.65L962.26 834.15L964.52 835.57L966.78 837.44L969.04 834.43L971.3 835.06L973.56 834.18L975.82 835.23L978.08 837.19L980.34 834.37L982.6 834.72L984.86 834.85L987.12 835.52L989.38 838.08L991.64 833.9L993.9 835.96L996.16 834.72L998.42 835.47L1000.68 837.99L1002.94 834.38L1005.2 834.99L1007.46 834.9L1009.72 835.39L1011.98 837.48L1014.24 834.13L1016.5 833.53L1018.76 834.53L1021.02 835.56L1023.28 837.84L1025.54 834.96L1027.8 834.38L1030.06 834.47L1032.32 835.63L1034.58 838.19L1036.84 834.18L1039.1 835.11L1041.36 834.48L1043.62 835.74L1045.88 837.14L1048.14 834.26L1050.4 835.22L1052.66 834.21L1054.92 835.1L1057.18 837.57L1059.44 834.48L1061.71 834.61L1063.97 834.72L1066.23 835.65L1068.49 837.92L1070.75 833.98L1073.01 835.26L1075.27 834.67L1077.53 834.93L1079.79 837.47L1082.05 834.04L1084.31 834.1L1086.57 834.23L1088.83 835.04L1091.09 837.44L1093.35 833.96L1095.61 835.29L1097.87 834.17L1100.13 835.03L1102.39 839.35L1104.65 834.33L1106.91 835.31" fill="none" stroke="#ff7f0e" stroke-width="2.08" stroke-linecap="square" clip-path="url(#c2)"/>
<path d="M205.09 731.7L207.35 662L209.61 650L211.87 647.1L214.13 659.7L216.39 698L218.65 735.5L220.91 751.5L223.17 739.5L225.43 736.5L227.69 815.6L229.95 818.9L232.21 810.9L234.47 821.25L236.73 807.2L238.99 821.25L241.25 826.9L243.51 826.4L245.77 829.7L248.03 818L250.29 828.75L252.56 825.9L254.82 817.5L257.08 811.9L259.34 799.7L261.6 809.1L263.86 812.3L266.12 810.5L268.38 815.2L270.64 804.8L272.9 820.3L275.16 826.9L277.42 824.1L279.68 825L281.94 814.2L284.2 827.3L286.46 828.75L288.72 826.9L290.98 826.4L293.24 817L295.5 825.9L297.76 826.4L300.02 825.9L302.28 825L304.54 812.3L306.8 824.45L309.06 823.8L311.32 825.1L313.58 826.3L315.84 815.1L318.1 830.7L320.36 831.3L322.62 829.45L324.88 828.2L327.14 818.2L329.4 831.95L331.66 832.6L333.92 830.7L336.18 829.45L338.44 818.8L340.7 830.7L342.96 831.95L345.22 830.1L347.48 828.8L349.74 814.2L352 827.6L354.26 828.2L356.52 825.7L358.78 826.3L361.04 817.2L363.3 832.6L365.56 834.45L367.83 835.1L370.09 833.8L372.35 823.2L374.61 833.2L376.87 833.8L379.13 833.2L381.39 831.3L383.65 821.95L385.91 833.2L388.17 834.45L390.43 833.8L392.69 830.7L394.95 820.1L397.21 830.1L399.47 828.8L401.73 827.6L403.99 826.95L406.25 818.2L408.51 829.45L410.77 831.95L413.03 830.7L415.29 831.3L417.55 825.3L419.81 833.2L422.07 833.8L424.33 831.95L426.59 831.95L428.85 822.95L431.11 834.45L433.37 835.1L435.63 830.7L437.89 826.95L440.15 815.1L442.41 826.3L444.67 826.3L446.93 826.3L449.19 825.1L451.45 816.95L453.71 830.7L455.97 833.8L458.23 834.45L460.49 832.6L462.75 824.2L465.01 833.8L467.27 834.45L469.53 831.95L471.79 830.7L474.05 823.8L476.31 833.8L478.57 832.6L480.83 829.45L483.1 827.6L485.36 814.45L487.62 826.3L489.88 824.45L492.14 823.8L494.4 825.7L496.66 815.45L498.92 828.2L501.18 833.2L503.44 831.3L505.7 831.95L507.96 821.7L510.22 832.6L512.48 834.45L514.74 830.7L517 829.45L519.26 821.3L521.52 833.2L523.78 835.1L526.04 831.3L528.3 828.8L530.56 816.3L532.82 828.2L535.08 827.6L537.34 826.3L539.6 826.3L541.86 817.8L544.12 830.7L546.38 834.45L548.64 835.7L550.9 833.2L553.16 825.95L555.42 834.45L557.68 835.1L559.94 831.3L562.2 830.1L564.46 820.45L566.72 831.95L568.98 833.2L571.24 830.7L573.5 828.8L575.76 815.95L578.02 827.6L580.28 826.95L582.54 825.7L584.8 826.95L587.06 816.95L589.32 830.7L591.58 835.1L593.84 832.6L596.1 831.95L598.37 823.6L600.63 834.45L602.89 835.1L605.15 831.95L607.41 830.7L609.67 821.3L611.93 833.2L614.19 834.45L616.45 830.7L618.71 828.2L620.97 818.8L623.23 828.8L625.49 829.45L627.75 828.2L630.01 827.6L632.27 820.45L634.53 830.7L636.79 835.7L639.05 834.45L641.31 832.6L643.57 822.3L645.83 833.2L648.09 831.95L650.35 831.3L652.61 830.7L654.87 823.2L657.13 832.6L659.39 833.8L661.65 830.7L663.91 827.6L666.17 817.95L668.43 828.8L670.69 828.2L672.95 826.95L675.21 826.3L677.47 818.2L679.73 830.7L681.99 835.7L684.25 835.1L686.51 833.2L688.77 824.45L691.03 833.8L693.29 835.1L695.55 833.2L697.81 831.95L700.07 824.2L702.33 833.2L704.59 834.45L706.85 832.6L709.11 828.8L711.37 817.2L713.63 827.6L715.9 825.7L718.16 824.45L720.42 823.8L722.68 815.7L724.94 831.2L727.2 834.7L729.46 833.7L731.72 832.5L733.98 822.6L736.24 833.7L738.5 834.7L740.76 832.2L743.02 830.9L745.28 821.3L747.54 832.7L749.8 833.7L752.06 830.7L754.32 828.2L756.58 814.45L758.84 827.2L761.1 826.7L763.36 825.7L765.62 825.9L767.88 818.45L770.14 831.2L772.4 834.7L774.66 833.7L776.92 832.5L779.18 825.7L781.44 833.7L783.7 834.7L785.96 832.2L788.22 830.9L790.48 823.8L792.74 832.7L795 833.7L797.26 830.7L799.52 828.2L801.78 817.6L804.04 831.2L806.3 834.7L808.56 833.7L810.82 832.5L813.08 823.8L815.34 833.7L817.6 834.7L819.86 832.2L822.12 830.9L824.38 825.7L826.64 833.7L828.9 834.7L831.17 832.2L833.43 830.9L835.69 825.1L837.95 832.7L840.21 833.7L842.47 830.7L844.73 828.2L846.99 818.8L849.25 831.2L851.51 834.7L853.77 833.7L856.03 832.5L858.29 820.4L860.55 833.7L862.81 834.7L865.07 832.2L867.33 830.9L869.59 826.95L871.85 833.7L874.11 834.7L876.37 832.2L878.63 830.9L880.89 823.45L883.15 832.7L885.41 833.7L887.67 830.7L889.93 828.2L892.19 818.8L894.45 831.2L896.71 834.7L898.97 833.7L901.23 832.5L903.49 821.3L905.75 833.7L908.01 834.7L910.27 832.2L912.53 830.9L914.79 824.2L917.05 833.7L919.31 834.7L921.57 832.2L923.83 830.9L926.09 825.1L928.35 832.7L930.61 833.7L932.87 830.7L935.13 828.2L937.39 818.45L939.65 831.2L941.91 834.7L944.17 833.7L946.44 832.5L948.7 820.7L950.96 833.7L953.22 834.7L955.48 832.2L957.74 830.9L960 824.45L962.26 833.7L964.52 834.7L966.78 832.2L969.04 830.9L971.3 822.6L973.56 832.7L975.82 833.7L978.08 830.7L980.34 828.2L982.6 817.6L984.86 827.2L987.12 826.7L989.38 825.7L991.64 825.9L993.9 815.7L996.16 831.2L998.42 834.7L1000.68 833.7L1002.94 832.5L1005.2 823.8L1007.46 833.7L1009.72 834.7L1011.98 832.2L1014.24 830.9L1016.5 825.1L1018.76 832.7L1021.02 833.7L1023.28 830.7L1025.54 828.2L1027.8 819.2L1030.06 827.2L1032.32 826.7L1034.58 825.7L1036.84 825.9L1039.1 817.6L1041.36 831.2L1043.62 834.7L1045.88 833.7L1048.14 832.5L1050.4 825.7L1052.66 833.7L1054.92 834.7L1057.18 832.2L1059.44 830.9L1061.71 823.45L1063.97 832.7L1066.23 833.7L1068.49 830.7L1070.75 828.2L1073.01 816.7L1075.27 831.2L1077.53 834.7L1079.79 833.7L1082.05 832.5L1084.31 820.45L1086.57 833.7L1088.83 834.7L1091.09 832.2L1093.35 830.9L1095.61 826.7L1097.87 833.7L1100.13 834.7L1102.39 832.2L1104.65 830.9L1106.91 825.1" fill="none" stroke="#2ca02c" stroke-width="2.08" stroke-linecap="square" clip-path="url(#c2)"/>
<path d="M205.09 831.25L207.35 827.7L209.61 827.3L211.87 826.6L214.13 828.6L216.39 831.6L218.65 834.4L220.91 835.6L223.17 835L225.43 835L227.69 836.5L229.95 838L232.21 835.4L234.47 833.7L236.73 833.5L238.99 833.5L241.25 833.7L243.51 835.75L245.77 834.09L248.03 835.1L250.29 834.28L252.56 835.28L254.82 837.98L257.08 834.03L259.34 835.22L261.6 834.9L263.86 835.41L266.12 838.44L268.38 834.67L270.64 834.98L272.9 834.35L275.16 835.25L277.42 837.9L279.68 833.94L281.94 835.29L284.2 834.65L286.46 834.98L288.72 836.68L290.98 834.36L293.24 834.91L295.5 834.07L297.76 835.18L300.02 836.95L302.28 834.28L304.54 834.25L306.8 834.93L309.06 835.58L311.32 837.92L313.58 834.29L315.84 834.87L318.1 834.78L320.36 835.35L322.62 837.91L324.88 833.86L327.14 834.87L329.4 834.24L331.66 835.07L333.92 838.99L336.18 833.73L338.44 835.17L340.7 834.42L342.96 835.43L345.22 838.54L347.48 833.88L349.74 834.65L352 834.32L354.26 835.33L356.52 837.86L358.78 834.07L361.04 835.35L363.3 833.98L365.56 835.12L367.83 837.89L370.09 834.81L372.35 835.53L374.61 834.04L376.87 835.04L379.13 838.11L381.39 833.95L383.65 834.57L385.91 834.68L388.17 835.36L390.43 837.3L392.69 834.06L394.95 835.1L397.21 834.66L399.47 834.69L401.73 837.41L403.99 833.86L406.25 834.1L408.51 833.85L410.77 835.58L413.03 838.28L415.29 835.11L417.55 834.32L419.81 833.96L422.07 835.47L424.33 837.73L426.59 834.21L428.85 834.97L431.11 834.72L433.37 835.46L435.63 838.44L437.89 834.11L440.15 835L442.41 834.12L444.67 835.3L446.93 836.97L449.19 834.66L451.45 835.09L453.71 834.18L455.97 835.62L458.23 837.19L460.49 834.28L462.75 833.67L465.01 834.57L467.27 835.09L469.53 838.18L471.79 834.89L474.05 835.53L476.31 834.05L478.57 834.92L480.83 838.49L483.1 833.91L485.36 834.63L487.62 834.05L489.88 834.95L492.14 837.62L494.4 833.85L496.66 835.18L498.92 834.06L501.18 835.32L503.44 838.45L505.7 834.35L507.96 834.9L510.22 833.98L512.48 834.6L514.74 837.77L517 833.77L519.26 834.88L521.52 834.56L523.78 835.22L526.04 837.09L528.3 833.94L530.56 834.27L532.82 834.22L535.08 834.8L537.34 837.32L539.6 833.95L541.86 834.99L544.12 834.14L546.38 835.57L548.64 838.19L550.9 834.28L553.16 835.12L555.42 834.41L557.68 835.69L559.94 838.36L562.2 834.33L564.46 834.78L566.72 834.75L568.98 834.79L571.24 838.52L573.5 834.01L575.76 835.76L578.02 834.14L580.28 835.25L582.54 838.23L584.8 834.29L587.06 834.99L589.32 834.79L591.58 834.91L593.84 837.73L596.1 835.47L598.37 834.79L600.63 834.29L602.89 835.45L605.15 836.98L607.41 834.78L609.67 834.67L611.93 833.87L614.19 835.65L616.45 838.12L618.71 833.99L620.97 835.36L623.23 834.42L625.49 835.16L627.75 838.05L630.01 833.9L632.27 834.24L634.53 834.57L636.79 835.7L639.05 838.01L641.31 834.41L643.57 834.53L645.83 834.26L648.09 835.02L650.35 838.45L652.61 834.13L654.87 835.02L657.13 834.3L659.39 834.88L661.65 838.17L663.91 834.19L666.17 834.99L668.43 834.33L670.69 835.03L672.95 838.47L675.21 834.01L677.47 835.54L679.73 834.32L681.99 834.89L684.25 838.29L686.51 834.36L688.77 834.06L691.03 834.41L693.29 835.43L695.55 838.73L697.81 834.04L700.07 834.42L702.33 834.27L704.59 835.49L706.85 836.9L709.11 834.28L711.37 834.87L713.63 833.94L715.9 834.67L718.16 838.09L720.42 834.17L722.68 835.01L724.94 834.5L727.2 835.24L729.46 838.67L731.72 834.29L733.98 834.85L736.24 834.56L738.5 835.48L740.76 837.79L743.02 834.35L745.28 834.87L747.54 834.12L749.8 835.34L752.06 838.06L754.32 834.18L756.58 835.24L758.84 834.89L761.1 835.96L763.36 838.17L765.62 834.63L767.88 834.71L770.14 834.55L772.4 835.57L774.66 838.33L776.92 834.56L779.18 835.03L781.44 834.24L783.7 835.39L785.96 837.79L788.22 834.68L790.48 835.08L792.74 834.54L795 835.75L797.26 838.36L799.52 834.24L801.78 835.21L804.04 834.32L806.3 835.01L808.56 837.67L810.82 834.3L813.08 834.31L815.34 834.89L817.6 834.93L819.86 837.53L822.12 834.11L824.38 835.12L826.64 834.48L828.9 835.07L831.17 837.34L833.43 834.28L835.69 834.44L837.95 834.67L840.21 835.37L842.47 837.48L844.73 834.11L846.99 835.32L849.25 834.36L851.51 835.17L853.77 838.27L856.03 833.55L858.29 834.88L860.55 834.24L862.81 834.76L865.07 836.96L867.33 834.12L869.59 835.02L871.85 834.44L874.11 835.71L876.37 837.76L878.63 834.69L880.89 835.06L883.15 834.63L885.41 835.46L887.67 837.82L889.93 833.94L892.19 834.81L894.45 834.46L896.71 834.6L898.97 837.81L901.23 834.09L903.49 834.68L905.75 834.37L908.01 835.09L910.27 837.68L912.53 833.63L914.79 835.23L917.05 834.45L919.31 834.76L921.57 838.37L923.83 834.28L926.09 834.31L928.35 833.89L930.61 835.5L932.87 837.62L935.13 834.31L937.39 833.56L939.65 834.54L941.91 835.69L944.17 838.07L946.44 834.62L948.7 834.77L950.96 834.36L953.22 835.43L955.48 837.86L957.74 835.17L960 834.65L962.26 834.15L964.52 835.57L966.78 837.44L969.04 834.43L971.3 835.06L973.56 834.18L975.82 835.23L978.08 837.19L980.34 834.37L982.6 834.72L984.86 834.85L987.12 835.52L989.38 838.08L991.64 833.9L993.9 835.96L996.16 834.72L998.42 835.47L1000.68 837.99L1002.94 834.38L1005.2 834.99L1007.46 834.9L1009.72 835.39L1011.98 837.48L1014.24 834.13L1016.5 833.53L1018.76 834.53L1021.02 835.56L1023.28 837.84L1025.54 834.96L1027.8 834.38L1030.06 834.47L1032.32 835.63L1034.58 838.19L1036.84 834.18L1039.1 835.11L1041.36 834.48L1043.62 835.74L1045.88 837.14L1048.14 834.26L1050.4 835.22L1052.66 834.21L1054.92 835.1L1057.18 837.57L1059.44 834.48L1061.71 834.61L1063.97 834.72L1066.23 835.65L1068.49 837.92L1070.75 833.98L1073.01 835.26L1075.27 834.67L1077.53 834.93L1079.79 837.47L1082.05 834.04L1084.31 834.1L1086.57 834.23L1088.83 835.04L1091.09 837.44L1093.35 833.96L1095.61 835.29L1097.87 834.17L1100.13 835.03L1102.39 839.35L1104.65 834.33L1106.91 835.31" fill="none" stroke="#d62728" stroke-width="2.08" stroke-linecap="square" clip-path="url(#c2)"/>
<path d="M205.09 841.1L207.35 841.7L209.61 842.4L211.87 843L214.13 843.3L216.39 843.5L218.65 843.7L220.91 843.8L223.17 843.8L225.43 843.8L227.69 843.7L229.95 842L232.21 840.8L234.47 840.4L236.73 840.4L238.99 840.4L241.25 840.2L243.51 841L245.77 839.1L248.03 838.25L250.29 837.12L252.56 840.26L254.82 842.1L257.08 839.14L259.34 837.8L261.6 838.18L263.86 840.81L266.12 841.93L268.38 839.69L270.64 838.29L272.9 838.16L275.16 840.69L277.42 842.41L279.68 838.74L281.94 837.93L284.2 838.44L286.46 839.89L288.72 842.01L290.98 840.03L293.24 838.21L295.5 838.34L297.76 840.46L300.02 842.3L302.28 838.35L304.54 838.87L306.8 838.1L309.06 841.08L311.32 841.73L313.58 839.34L315.84 837.8L318.1 838.81L320.36 840.82L322.62 842.35L324.88 838.95L327.14 838.37L329.4 838.17L331.66 840.38L333.92 841.8L336.18 839.19L338.44 838.29L340.7 837.84L342.96 840.69L345.22 842.03L347.48 839.45L349.74 838.24L352 837.95L354.26 841.27L356.52 841.9L358.78 838.96L361.04 837.85L363.3 837.55L365.56 840.14L367.83 841.7L370.09 838.58L372.35 838.66L374.61 838.01L376.87 840.02L379.13 841.4L381.39 839.4L383.65 838.32L385.91 838.53L388.17 840.76L390.43 841.62L392.69 839.19L394.95 837.8L397.21 838.4L399.47 840.5L401.73 842.29L403.99 838.34L406.25 837.85L408.51 837.88L410.77 840.51L413.03 842.45L415.29 838.29L417.55 839.08L419.81 837.57L422.07 840.08L424.33 842.2L426.59 839.53L428.85 838.76L431.11 837.82L433.37 840.68L435.63 841.81L437.89 838.84L440.15 838.68L442.41 837.7L444.67 839.85L446.93 841.16L449.19 838.95L451.45 838.22L453.71 837.51L455.97 839.88L458.23 842.69L460.49 838.36L462.75 837.77L465.01 838.33L467.27 840.53L469.53 841.3L471.79 839.79L474.05 837.83L476.31 838.13L478.57 839.94L480.83 842.17L483.1 838.76L485.36 838.61L487.62 837.86L489.88 840.25L492.14 842.15L494.4 839.22L496.66 838.65L498.92 838.06L501.18 840.82L503.44 842.23L505.7 839.28L507.96 837.92L510.22 837.87L512.48 840.26L514.74 841.97L517 839.48L519.26 838.27L521.52 837.88L523.78 840.26L526.04 841.38L528.3 838.94L530.56 837.72L532.82 838.16L535.08 839.98L537.34 842.13L539.6 839.26L541.86 838.21L544.12 837.69L546.38 840.13L548.64 842.47L550.9 839.34L553.16 839.27L555.42 838.04L557.68 840.22L559.94 842.28L562.2 839.54L564.46 837.94L566.72 837.58L568.98 840.17L571.24 842.06L573.5 838.47L575.76 838.67L578.02 838.73L580.28 841.13L582.54 842.41L584.8 838.96L587.06 838.84L589.32 838.37L591.58 840.73L593.84 842.38L596.1 839L598.37 837.45L600.63 838.72L602.89 840.1L605.15 842.72L607.41 838.57L609.67 837.9L611.93 837.59L614.19 840.1L616.45 842.68L618.71 839.59L620.97 838.26L623.23 838.25L625.49 839.85L627.75 841.87L630.01 838.97L632.27 838.36L634.53 838.52L636.79 840.88L639.05 842.91L641.31 838.81L643.57 838.26L645.83 837.59L648.09 840.21L650.35 841.86L652.61 838.72L654.87 838.8L657.13 837.65L659.39 840.86L661.65 841.47L663.91 838.39L666.17 838.34L668.43 838.6L670.69 840.19L672.95 842L675.21 838.57L677.47 839.12L679.73 838L681.99 840.56L684.25 842.81L686.51 839.14L688.77 837.69L691.03 837.59L693.29 839.86L695.55 842.66L697.81 838.35L700.07 838.17L702.33 838.54L704.59 840.32L706.85 841.79L709.11 838.79L711.37 838.42L713.63 837L715.9 840.09L718.16 841.81L720.42 838.65L722.68 838.44L724.94 837.76L727.2 840.52L729.46 841.91L731.72 839.67L733.98 838.08L736.24 837.77L738.5 840.97L740.76 841.68L743.02 838.96L745.28 838.5L747.54 837.96L749.8 839.87L752.06 841.79L754.32 838.83L756.58 838.17L758.84 837.52L761.1 840.14L763.36 842.16L765.62 839.07L767.88 837.87L770.14 838L772.4 840.94L774.66 841.56L776.92 839.23L779.18 838.06L781.44 837.98L783.7 840.04L785.96 842.36L788.22 838.75L790.48 838.4L792.74 838.24L795 839.68L797.26 841.79L799.52 839.64L801.78 838.66L804.04 838.33L806.3 840.52L808.56 842.73L810.82 839.02L813.08 838.98L815.34 838.43L817.6 840.84L819.86 842.09L822.12 838.64L824.38 837.95L826.64 838.78L828.9 839.99L831.17 841.66L833.43 838.63L835.69 837.67L837.95 838.62L840.21 840.52L842.47 842.19L844.73 838.8L846.99 838.18L849.25 837.98L851.51 840.49L853.77 842.13L856.03 839.59L858.29 838.91L860.55 838.06L862.81 840.81L865.07 841.85L867.33 838.61L869.59 838.89L871.85 837.54L874.11 840.32L876.37 841.74L878.63 838.64L880.89 838.42L883.15 838.77L885.41 840.12L887.67 841.96L889.93 839.14L892.19 838.48L894.45 838.51L896.71 840.54L898.97 842.57L901.23 839.18L903.49 837.98L905.75 837.59L908.01 840.09L910.27 841.98L912.53 838.69L914.79 838.43L917.05 838.26L919.31 840.13L921.57 841.44L923.83 838.14L926.09 838.82L928.35 837.95L930.61 840.32L932.87 842.07L935.13 839.32L937.39 838.59L939.65 838.04L941.91 840.37L944.17 842.28L946.44 839.03L948.7 837.74L950.96 838.36L953.22 839.9L955.48 841.53L957.74 838.99L960 838.2L962.26 838.69L964.52 840.6L966.78 842.05L969.04 838.69L971.3 838.44L973.56 838.29L975.82 840.33L978.08 842.37L980.34 838.99L982.6 838.16L984.86 838.33L987.12 840.44L989.38 842.3L991.64 839.37L993.9 838.2L996.16 837.92L998.42 840.76L1000.68 842.12L1002.94 838.94L1005.2 837.44L1007.46 838.38L1009.72 841.43L1011.98 842.2L1014.24 839.22L1016.5 838.6L1018.76 837.74L1021.02 840.36L1023.28 841.89L1025.54 839.36L1027.8 837.7L1030.06 838.67L1032.32 840.65L1034.58 842.75L1036.84 839.3L1039.1 837.99L1041.36 837.59L1043.62 839.96L1045.88 842.7L1048.14 838.76L1050.4 838.36L1052.66 837.51L1054.92 840.59L1057.18 842.39L1059.44 838.23L1061.71 838.31L1063.97 838.23L1066.23 840.69L1068.49 841.76L1070.75 838.65L1073.01 837.77L1075.27 837.94L1077.53 840.82L1079.79 842.05L1082.05 839.25L1084.31 838.51L1086.57 838.53L1088.83 840.04L1091.09 842.7L1093.35 840.11L1095.61 838.25L1097.87 838.06L1100.13 840.39L1102.39 842.01L1104.65 839.58L1106.91 837.92" fill="none" stroke="#9467bd" stroke-width="2.08" stroke-linecap="square" clip-path="url(#c2)"/>
<path d="M205 845L1107 845" fill="none" stroke="#8c564b" stroke-width="4" stroke-opacity="0.042" stroke-linecap="square" clip-path="url(#c2)"/>
<path d="M205 845L1107 845" fill="none" stroke="#8c564b" stroke-width="2.08" stroke-linecap="square" clip-path="url(#c2)"/>
<path d="M205 845L1107 845" fill="none" stroke="#e377c2" stroke-width="4" stroke-opacity="0.042" stroke-linecap="square" clip-path="url(#c2)"/>
<path d="M205 845L1107 845" fill="none" stroke="#e377c2" stroke-width="2.08" stroke-linecap="square" clip-path="url(#c2)"/>
<path d="M205.09 841.4L207.35 842L209.61 842.7L211.87 843.3L214.13 843.6L216.39 843.8L218.65 844L220.91 844.1L223.17 844.1L225.43 844.1L227.69 844L229.95 841.5L232.21 839.1L234.47 838L236.73 837.6L238.99 838L241.25 837.6L243.51 839.9L245.77 839.04L248.03 839.19L250.29 838.45L252.56 839.26L254.82 841.15L257.08 839.44L259.34 838.8L261.6 838.94L263.86 840.09L266.12 841.38L268.38 839.22L270.64 839.61L272.9 839.08L275.16 839.57L277.42 841.39L279.68 839.33L281.94 839.05L284.2 839.5L286.46 839.18L288.72 841.04L290.98 839.88L293.24 839.19L295.5 839.28L297.76 839.36L300.02 841.14L302.28 838.94L304.54 839.22L306.8 839.28L309.06 840.05L311.32 841.43L313.58 839.51L315.84 839.19L318.1 839.48L320.36 839.76L322.62 841.56L324.88 839.01L327.14 839.26L329.4 839.46L331.66 839.77L333.92 841.24L336.18 838.94L338.44 839.29L340.7 839.23L342.96 839.79L345.22 841.07L347.48 839.03L349.74 839.42L352 838.83L354.26 839.84L356.52 841.21L358.78 839.07L361.04 838.7L363.3 838.71L365.56 839.34L367.83 841.06L370.09 838.83L372.35 839.39L374.61 839.13L376.87 839.53L379.13 840.69L381.39 839.45L383.65 839.23L385.91 839.25L388.17 839.43L390.43 841.2L392.69 839.27L394.95 839.36L397.21 839.34L399.47 839.55L401.73 841.7L403.99 838.63L406.25 839.16L408.51 839.34L410.77 839.54L413.03 841.09L415.29 838.65L417.55 839.6L419.81 838.62L422.07 839.72L424.33 841.25L426.59 839.32L428.85 839.66L431.11 838.92L433.37 839.39L435.63 841.12L437.89 838.67L440.15 839.5L442.41 839L444.67 839.63L446.93 840.91L449.19 839.1L451.45 839.14L453.71 839.07L455.97 839.32L458.23 841.45L460.49 838.93L462.75 838.65L465.01 839.25L467.27 839.52L469.53 840.97L471.79 839.72L474.05 839.28L476.31 838.76L478.57 839.44L480.83 841.28L483.1 839.03L485.36 839.6L487.62 839.36L489.88 839.39L492.14 841.2L494.4 839.25L496.66 839.19L498.92 838.97L501.18 839.81L503.44 841.3L505.7 838.74L507.96 839.15L510.22 838.99L512.48 839.56L514.74 841.01L517 839.43L519.26 839.05L521.52 838.82L523.78 839.64L526.04 840.63L528.3 838.83L530.56 839.45L532.82 838.76L535.08 839.38L537.34 841.46L539.6 839.2L541.86 839.3L544.12 839.15L546.38 839.42L548.64 841.27L550.9 839.04L553.16 839.92L555.42 839.23L557.68 839.51L559.94 841.18L562.2 839.11L564.46 838.95L566.72 838.89L568.98 839.97L571.24 840.84L573.5 838.95L575.76 839.55L578.02 839.47L580.28 839.34L582.54 841.56L584.8 839L587.06 839.71L589.32 839.22L591.58 839.52L593.84 841.38L596.1 839.24L598.37 839.1L600.63 839.63L602.89 839.51L605.15 841.48L607.41 838.98L609.67 838.84L611.93 838.82L614.19 839.57L616.45 841.37L618.71 839.54L620.97 839.32L623.23 839.03L625.49 839.29L627.75 841.19L630.01 839.17L632.27 838.74L634.53 839.42L636.79 839.88L639.05 841.77L641.31 838.87L643.57 839.31L645.83 839.1L648.09 839.26L650.35 840.98L652.61 838.85L654.87 839.42L657.13 839.2L659.39 839.93L661.65 841.09L663.91 838.75L666.17 839.4L668.43 839.19L670.69 839.76L672.95 841.51L675.21 838.95L677.47 839.49L679.73 838.84L681.99 839.63L684.25 841.37L686.51 839.07L688.77 839.35L691.03 838.75L693.29 839.43L695.55 841.23L697.81 838.79L700.07 839.08L702.33 839.7L704.59 839.66L706.85 840.99L709.11 838.83L711.37 839.64L713.63 838.39L715.9 839.5L718.16 841.34L720.42 838.94L722.68 839.41L724.94 838.81L727.2 839.57L729.46 841.18L731.72 839.07L733.98 839.31L736.24 839.08L738.5 839.85L740.76 841.1L743.02 838.92L745.28 839.2L747.54 838.99L749.8 839.19L752.06 840.69L754.32 838.73L756.58 839.34L758.84 838.9L761.1 839.46L763.36 841.88L765.62 839.35L767.88 839.21L770.14 838.91L772.4 839.91L774.66 840.97L776.92 839.38L779.18 839.41L781.44 839.41L783.7 839.39L785.96 841.39L788.22 838.61L790.48 839.22L792.74 839.34L795 839.74L797.26 840.71L799.52 839.24L801.78 839.38L804.04 839.05L806.3 839.38L808.56 841.09L810.82 838.92L813.08 839.5L815.34 839.18L817.6 839.83L819.86 841.34L822.12 838.74L824.38 839.3L826.64 839.6L828.9 839.29L831.17 841.24L833.43 838.87L835.69 839.04L837.95 839.12L840.21 839.79L842.47 841.36L844.73 839.18L846.99 839.5L849.25 838.66L851.51 839.77L853.77 841.27L856.03 839.02L858.29 839.26L860.55 838.85L862.81 839.86L865.07 840.98L867.33 838.7L869.59 839.26L871.85 838.92L874.11 839.55L876.37 841.54L878.63 839.03L880.89 839.3L883.15 839.63L885.41 839.21L887.67 841.26L889.93 839.36L892.19 839.64L894.45 839.63L896.71 839.4L898.97 841.32L901.23 839.04L903.49 839.15L905.75 838.88L908.01 839.2L910.27 841.25L912.53 839.26L914.79 839L917.05 839.26L919.31 839.43L921.57 840.91L923.83 838.41L926.09 839.54L928.35 839.25L930.61 839.49L932.87 841.07L935.13 838.74L937.39 839.4L939.65 839.05L941.91 839.7L944.17 841.21L946.44 838.72L948.7 838.88L950.96 839.17L953.22 839.14L955.48 841.24L957.74 839.3L960 838.95L962.26 839.24L964.52 839.58L966.78 841.31L969.04 838.92L971.3 839.27L973.56 839.19L975.82 840.04L978.08 841.36L980.34 839.21L982.6 838.95L984.86 839.17L987.12 839.41L989.38 841.17L991.64 839.15L993.9 839.53L996.16 839.23L998.42 839.63L1000.68 841.17L1002.94 839.43L1005.2 839.06L1007.46 839.1L1009.72 839.93L1011.98 841.14L1014.24 839.3L1016.5 839.51L1018.76 839.59L1021.02 839.87L1023.28 840.77L1025.54 839.09L1027.8 839.36L1030.06 839.3L1032.32 839.69L1034.58 841.66L1036.84 839.36L1039.1 838.99L1041.36 838.92L1043.62 839.06L1045.88 841.62L1048.14 839.05L1050.4 839.24L1052.66 838.68L1054.92 839.46L1057.18 841.28L1059.44 838.97L1061.71 839.17L1063.97 838.91L1066.23 840.07L1068.49 841.03L1070.75 838.7L1073.01 839.13L1075.27 838.97L1077.53 839.53L1079.79 841.1L1082.05 838.77L1084.31 839.2L1086.57 839.15L1088.83 839.2L1091.09 841.65L1093.35 839.48L1095.61 838.79L1097.87 838.96L1100.13 839.81L1102.39 841.49L1104.65 839.5L1106.91 838.78" fill="none" stroke="#7f7f7f" stroke-width="2.08" stroke-linecap="square" clip-path="url(#c2)"/>
<path d="M205 845L1107 845" fill="none" stroke="#bcbd22" stroke-width="4" stroke-opacity="0.042" stroke-linecap="square" clip-path="url(#c2)"/>
<path d="M205 845L1107 845" fill="none" stroke="#bcbd22" stroke-width="2.08" stroke-linecap="square" clip-path="url(#c2)"/>
<path d="M205 845L1107 845" fill="none" stroke="#17becf" stroke-width="4" stroke-opacity="0.042" stroke-linecap="square" clip-path="url(#c2)"/>
<path d="M205 845L1107 845" fill="none" stroke="#17becf" stroke-width="2.08" stroke-linecap="square" clip-path="url(#c2)"/>
<path d="M205.09 836.1L207.35 830.5L209.61 829L211.87 828.8L214.13 830.5L216.39 833.9L218.65 836.1L220.91 837.25L223.17 835.9L225.43 835.6L227.69 837.25L229.95 842.1L232.21 843.5L234.47 843.97L236.73 843.94L238.99 843.87L241.25 844.07L243.51 843.65L245.77 843.91L248.03 844.15L250.29 843.9L252.56 843.85L254.82 844.23L257.08 844.13L259.34 843.98L261.6 843.92L263.86 843.97L266.12 843.95L268.38 843.97L270.64 843.9L272.9 844.06L275.16 843.93L277.42 843.77L279.68 843.83L281.94 843.99L284.2 843.87L286.46 843.69L288.72 844.18L290.98 844.06L293.24 843.93L295.5 843.93L297.76 844.06L300.02 844.16L302.28 843.91L304.54 844.04L306.8 843.91L309.06 844.03L311.32 843.85L313.58 843.76L315.84 844L318.1 843.98L320.36 844.08L322.62 843.91L324.88 844.16L327.14 844L329.4 844.18L331.66 843.95L333.92 844.18L336.18 843.98L338.44 844.01L340.7 844.11L342.96 843.77L345.22 843.86L347.48 844.22L349.74 843.8L352 843.93L354.26 844.06L356.52 844.17L358.78 843.93L361.04 844.01L363.3 843.85L365.56 843.94L367.83 844.12L370.09 844.03L372.35 843.99L374.61 844.04L376.87 844.01L379.13 844.01L381.39 843.95L383.65 843.87L385.91 844.08L388.17 843.85L390.43 844.12L392.69 844.26L394.95 844.18L397.21 844.28L399.47 843.86L401.73 844.02L403.99 843.89L406.25 843.9L408.51 843.78L410.77 843.84L413.03 844.1L415.29 844.08L417.55 844.14L419.81 844.14L422.07 844.09L424.33 843.9L426.59 843.98L428.85 844.09L431.11 844.15L433.37 843.95L435.63 843.94L437.89 843.94L440.15 844.2L442.41 844.07L444.67 843.96L446.93 843.9L449.19 844.05L451.45 843.79L453.71 843.97L455.97 843.93L458.23 843.93L460.49 844.02L462.75 844.05L465.01 844.38L467.27 844.01L469.53 844.09L471.79 843.9L474.05 843.8L476.31 844.14L478.57 844.24L480.83 843.88L483.1 843.99L485.36 844.14L487.62 844.01L489.88 843.71L492.14 844.13L494.4 843.98L496.66 844.09L498.92 843.88L501.18 844.11L503.44 844.13L505.7 843.91L507.96 844.06L510.22 843.92L512.48 843.94L514.74 843.89L517 843.95L519.26 843.92L521.52 844.15L523.78 843.97L526.04 843.86L528.3 844.17L530.56 844.07L532.82 844.12L535.08 843.99L537.34 844.09L539.6 843.99L541.86 843.88L544.12 844.02L546.38 844.02L548.64 844.02L550.9 844.11L553.16 843.79L555.42 844.04L557.68 843.91L559.94 843.97L562.2 844.06L564.46 844.01L566.72 843.92L568.98 844.1L571.24 844L573.5 844.12L575.76 844.16L578.02 843.96L580.28 843.87L582.54 844.02L584.8 844.11L587.06 844.05L589.32 843.86L591.58 843.8L593.84 843.89L596.1 843.89L598.37 844.08L600.63 844.01L602.89 844.11L605.15 844L607.41 844.21L609.67 844.01L611.93 844.08L614.19 843.96L616.45 844.06L618.71 844.14L620.97 844.1L623.23 844.16L625.49 843.93L627.75 844.06L630.01 844.22L632.27 844.04L634.53 843.99L636.79 843.98L639.05 843.94L641.31 844.03L643.57 844.18L645.83 844.06L648.09 844.01L650.35 843.91L652.61 843.87L654.87 844.3L657.13 843.95L659.39 844.02L661.65 843.95L663.91 844.03L666.17 843.96L668.43 844.02L670.69 844.18L672.95 843.92L675.21 844.07L677.47 844L679.73 844.09L681.99 843.92L684.25 844.06L686.51 843.89L688.77 843.78L691.03 843.84L693.29 843.89L695.55 843.87L697.81 843.96L700.07 844.14L702.33 843.86L704.59 844.06L706.85 844.02L709.11 843.92L711.37 843.89L713.63 844.05L715.9 844.06L718.16 843.96L720.42 843.98L722.68 844L724.94 843.84L727.2 844.01L729.46 844.04L731.72 844.21L733.98 843.85L736.24 843.89L738.5 844.01L740.76 843.93L743.02 843.95L745.28 844L747.54 843.96L749.8 844L752.06 844.05L754.32 843.8L756.58 844.07L758.84 843.73L761.1 844.21L763.36 844.11L765.62 843.93L767.88 844.12L770.14 843.98L772.4 844.05L774.66 844.09L776.92 844.04L779.18 844L781.44 844.08L783.7 843.98L785.96 843.96L788.22 843.89L790.48 843.78L792.74 844.19L795 844.1L797.26 843.83L799.52 844.05L801.78 844.03L804.04 843.74L806.3 843.9L808.56 843.99L810.82 844.21L813.08 844.13L815.34 844.15L817.6 844.04L819.86 844.12L822.12 843.86L824.38 844.08L826.64 844.09L828.9 843.85L831.17 844.03L833.43 844.19L835.69 844.24L837.95 844.17L840.21 843.92L842.47 843.99L844.73 843.94L846.99 844.15L849.25 843.9L851.51 843.88L853.77 843.81L856.03 844.03L858.29 844.06L860.55 843.93L862.81 843.91L865.07 843.98L867.33 844.17L869.59 843.84L871.85 844L874.11 844.03L876.37 844.05L878.63 844.16L880.89 844.11L883.15 844.04L885.41 844.18L887.67 844.14L889.93 844.04L892.19 844.03L894.45 843.86L896.71 844.02L898.97 843.91L901.23 843.87L903.49 843.97L905.75 843.8L908.01 843.9L910.27 843.94L912.53 844.05L914.79 843.97L917.05 844.05L919.31 844.19L921.57 844.1L923.83 843.86L926.09 843.79L928.35 843.89L930.61 843.9L932.87 843.76L935.13 843.79L937.39 843.79L939.65 843.93L941.91 844.17L944.17 844.2L946.44 843.88L948.7 843.94L950.96 843.83L953.22 843.8L955.48 843.99L957.74 844L960 843.92L962.26 844.07L964.52 843.95L966.78 844.12L969.04 843.93L971.3 844.09L973.56 843.97L975.82 844L978.08 844.06L980.34 843.83L982.6 843.9L984.86 843.98L987.12 843.96L989.38 844.02L991.64 843.89L993.9 843.83L996.16 843.98L998.42 844.02L1000.68 843.89L1002.94 844.13L1005.2 844.07L1007.46 844.09L1009.72 844.08L1011.98 843.89L1014.24 844.25L1016.5 843.91L1018.76 844.04L1021.02 844.08L1023.28 844.04L1025.54 844.02L1027.8 843.9L1030.06 843.95L1032.32 844L1034.58 844.16L1036.84 843.92L1039.1 844.08L1041.36 844.05L1043.62 844.01L1045.88 843.94L1048.14 843.99L1050.4 843.8L1052.66 844.02L1054.92 844.05L1057.18 843.95L1059.44 844.07L1061.71 844.05L1063.97 843.92L1066.23 844.11L1068.49 843.95L1070.75 844.3L1073.01 843.89L1075.27 843.91L1077.53 843.93L1079.79 844.04L1082.05 844.15L1084.31 844.02L1086.57 843.96L1088.83 844.24L1091.09 844.13L1093.35 843.98L1095.61 844L1097.87 843.83L1100.13 844.01L1102.39 844.22L1104.65 843.87L1106.91 843.84" fill="none" stroke="#1f77b4" stroke-width="2.08" stroke-linecap="square" clip-path="url(#c2)"/>
<path d="M160 854L160 637" fill="none" stroke="#000000" stroke-width="4" stroke-opacity="0.111" stroke-linecap="square"/>
<path d="M160 854L160 637" fill="none" stroke="#000000" stroke-width="2.22" stroke-linecap="square" stroke-linejoin="miter"/>
<path d="M1152 854L1152 637" fill="none" stroke="#000000" stroke-width="4" stroke-opacity="0.111" stroke-linecap="square"/>
<path d="M1152 854L1152 637" fill="none" stroke="#000000" stroke-width="2.22" stroke-linecap="square" stroke-linejoin="miter"/>
<path d="M160 854L1152 854" fill="none" stroke="#000000" stroke-width="4" stroke-opacity="0.111" stroke-linecap="square"/>
<path d="M160 854L1152 854" fill="none" stroke="#000000" stroke-width="2.22" stroke-linecap="square" stroke-linejoin="miter"/>
<path d="M160 637L1152 637" fill="none" stroke="#000000" stroke-width="4" stroke-opacity="0.111" stroke-linecap="square"/>
<path d="M160 637L1152 637" fill="none" stroke="#000000" stroke-width="2.22" stroke-linecap="square" stroke-linejoin="miter"/>
<path d="M205 854L205 863.72" fill="none" stroke="#000000" stroke-width="2.22"/>
<text x="197.06" y="896" font-size="27.78">0</text>
<path d="M318 854L318 863.72" fill="none" stroke="#000000" stroke-width="2.22"/>
<text x="301.06 317.69" y="896" font-size="27.78">50</text>
<path d="M431 854L431 863.72" fill="none" stroke="#000000" stroke-width="2.22"/>
<text x="405.06 422.69 440.44" y="896" font-size="27.78">100</text>
<path d="M544 854L544 863.72" fill="none" stroke="#000000" stroke-width="2.22"/>
<text x="518.06 535.68 553.31" y="896" font-size="27.78">150</text>
<path d="M657 854L657 863.72" fill="none" stroke="#000000" stroke-width="2.22"/>
<text x="631.06 648.68 666.43" y="896" font-size="27.78">200</text>
<path d="M770 854L770 863.72" fill="none" stroke="#000000" stroke-width="2.22"/>
<text x="744.06 761.68 779.31" y="896" font-size="27.78">250</text>
<path d="M883 854L883 863.72" fill="none" stroke="#000000" stroke-width="2.22"/>
<text x="857.06 873.81 891.56" y="896" font-size="27.78">300</text>
<path d="M996 854L996 863.72" fill="none" stroke="#000000" stroke-width="2.22"/>
<text x="970.06 986.81 1004.43" y="896" font-size="27.78">350</text>
<path d="M1109 854L1109 863.72" fill="none" stroke="#000000" stroke-width="2.22"/>
<text x="1083.06 1099.68 1117.43" y="896" font-size="27.78">400</text>
<text x="594.06 605.18 622.18 636.68 647.56 656.43 674.06 684.93 701.93" y="935" font-size="27.78">Test Step</text>
<path d="M160 845L150.28 845" fill="none" stroke="#000000" stroke-width="2.22"/>
<text x="124.06" y="856" font-size="27.78">0</text>
<path d="M160 734L150.28 734" fill="none" stroke="#000000" stroke-width="2.22"/>
<text x="87.06 104.69 122.44" y="745" font-size="27.78">200</text>
<text x="69 93 110 127 144.62 153.5 171.5 188.5 211.25 228.25 239.25" y="840.94" font-size="27.78" transform="rotate(-90 69 840.94)">Mean Reward</text>
<text x="-66.94 -45.56 -24.31 -2.94 18.31 39.56 60.81 82.19 103.56 124.94 146.19 167.44 188.69 209.94 231.19 241.81 253.06 263.69 284.81 305.19 326.31 347.56 374.81 388.56 397.81 410.81 423.81 444.31 465.44 482.31 496.06 517.18 526.43 546.93 564.31 574.93 586.18 596.81 617.31 634.18 655.43 672.31 684.06 704.56 725.06 746.31 763.18 784.43 798.18 807.43 828.56 847.81 864.68 885.81 906.31 938.93 959.43 979.93 997.31 1010.31 1030.68 1048.06 1057.31 1074.68 1091.56 1112.81 1133.31 1142.56 1163.81 1174.43 1195.68 1215.43 1226.06 1240.81 1261.31 1278.68 1291.68 1302.31 1323.56 1336.56 1357.06" y="620" font-size="33.33">20250722231604 : handwritten_rules : e_7_food_drink_homeostasis_gold by Test Step</text>
<g id="legend3">
<path d="M720.5 841.5L1133.5 841.5Q1138.5 841.5 1138.5 835.5L1138.5 373.5Q1138.5 367.5 1133.5 367.5L720.5 367.5Q715.5 367.5 715.5 373.5L715.5 835.5Q715.5 841.5 720.5 841.5Z" fill="#ffffff" fill-opacity="0.8" stroke="#cccccc" stroke-opacity="0.8" stroke-width="2.78" stroke-linejoin="miter"/>
<path d="M726 391L781 391" fill="none" stroke="#1f77b4" stroke-width="4" stroke-opacity="0.042" stroke-linecap="square"/>
<path d="M726 391L781 391" fill="none" stroke="#1f77b4" stroke-width="2.08" stroke-linecap="square"/>
<text x="804.06 821.06 838.06 860.81 877.81 888.81" y="401" font-size="27.78">Reward</text>
<path d="M726 433L781 433" fill="none" stroke="#ff7f0e" stroke-width="4" stroke-opacity="0.042" stroke-linecap="square"/>
<path d="M726 433L781 433" fill="none" stroke="#ff7f0e" stroke-width="2.08" stroke-linecap="square"/>
<text x="804.06 820.68 835.93 852.81 863.68" y="442" font-size="27.78">Score</text>
<path d="M726 475L781 475" fill="none" stroke="#2ca02c" stroke-width="4" stroke-opacity="0.042" stroke-linecap="square"/>
<path d="M726 475L781 475" fill="none" stroke="#2ca02c" stroke-width="2.08" stroke-linecap="square"/>
<text x="804.06 821.06 838.06 860.81 877.81 888.81" y="484" font-size="27.78">Reward</text>
<path d="M726 516L781 516" fill="none" stroke="#d62728" stroke-width="4" stroke-opacity="0.042" stroke-linecap="square"/>
<path d="M726 516L781 516" fill="none" stroke="#d62728" stroke-width="2.08" stroke-linecap="square"/>
<text x="804.06 820.68 835.93 852.81 863.68" y="526" font-size="27.78">Score</text>
<path d="M726 558L781 558" fill="none" stroke="#9467bd" stroke-width="4" stroke-opacity="0.042" stroke-linecap="square"/>
<path d="M726 558L781 558" fill="none" stroke="#9467bd" stroke-width="2.08" stroke-linecap="square"/>
<text x="804.06 824.43 843.68 851.93 872.68" y="568" font-size="27.78">DRINK</text>
<path d="M726 600L781 600" fill="none" stroke="#8c564b" stroke-width="4" stroke-opacity="0.042" stroke-linecap="square"/>
<path d="M726 600L781 600" fill="none" stroke="#8c564b" stroke-width="2.08" stroke-linecap="square"/>
<text x="804.06 824.43 843.68 851.93 872.68 890.93 904.81 926.18 943.81 959.81 968.06 987.43 995.68 1013.31 1034.06 1052.93" y="610" font-size="27.78">DRINK_DEFICIENCY</text>
<path d="M726 643L781 643" fill="none" stroke="#e377c2" stroke-width="4" stroke-opacity="0.042" stroke-linecap="square"/>
<path d="M726 643L781 643" fill="none" stroke="#e377c2" stroke-width="2.08" stroke-linecap="square"/>
<text x="804.06 824.43 843.68 851.93 872.68 890.93 904.81 926.06 945.06 962.68 981.93 1000.06 1016.93 1033.81 1042.06 1058.93 1075.81 1084.06 1105.81" y="653" font-size="27.78">DRINK_OVERSATIATION</text>
<path d="M726 686L781 686" fill="none" stroke="#7f7f7f" stroke-width="4" stroke-opacity="0.042" stroke-linecap="square"/>
<path d="M726 686L781 686" fill="none" stroke="#7f7f7f" stroke-width="2.08" stroke-linecap="square"/>
<text x="804.06 819.06 840.81 862.56" y="696" font-size="27.78">FOOD</text>
<path d="M726 728L781 728" fill="none" stroke="#bcbd22" stroke-width="4" stroke-opacity="0.042" stroke-linecap="square"/>
<path d="M726 728L781 728" fill="none" stroke="#bcbd22" stroke-width="2.08" stroke-linecap="square"/>
<text x="804.06 819.06 840.81 862.56 883.93 897.81 919.18 936.81 952.81 961.06 980.43 988.68 1006.31 1027.06 1045.93" y="738" font-size="27.78">FOOD_DEFICIENCY</text>
<path d="M726 771L781 771" fill="none" stroke="#17becf" stroke-width="4" stroke-opacity="0.042" stroke-linecap="square"/>
<path d="M726 771L781 771" fill="none" stroke="#17becf" stroke-width="2.08" stroke-linecap="square"/>
<text x="804.06 819.06 840.81 862.56 883.93 897.81 919.06 938.06 955.68 974.93 993.06 1009.93 1026.81 1035.06 1051.93 1068.81 1077.06 1098.81" y="781" font-size="27.78">FOOD_OVERSATIATION</text>
<path d="M726 814L781 814" fill="none" stroke="#1f77b4" stroke-width="4" stroke-opacity="0.042" stroke-linecap="square"/>
<path d="M726 814L781 814" fill="none" stroke="#1f77b4" stroke-width="2.08" stroke-linecap="square"/>
<text x="804.06 824.43 846.18 861.68" y="823" font-size="27.78">GOLD</text>
</g>
</g>
</svg>
</body>
</html>
